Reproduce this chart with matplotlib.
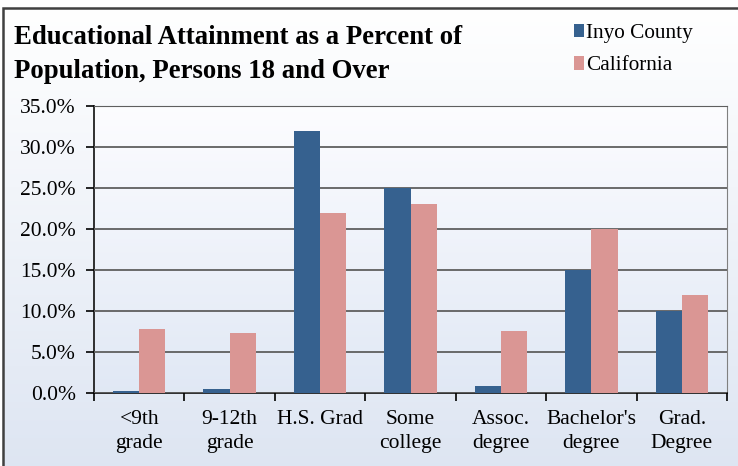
import numpy as np
import matplotlib
matplotlib.use("Agg")
import matplotlib.pyplot as plt
from matplotlib.patches import Rectangle
from matplotlib.ticker import FuncFormatter, FixedLocator

matplotlib.rcParams['font.family'] = ['Liberation Serif', 'DejaVu Serif']

categories = ["<9th\ngrade", "9-12th\ngrade", "H.S. Grad", "Some\ncollege",
              "Assoc.\ndegree", "Bachelor's\ndegree", "Grad.\nDegree"]
inyo = [0.3, 0.5, 32.0, 25.0, 0.9, 15.0, 10.0]
california = [7.8, 7.3, 22.0, 23.0, 7.6, 20.0, 12.0]
series_names = ["Inyo County", "California"]
title_lines = ["Educational Attainment as a Percent of",
               "Population, Persons 18 and Over"]

BLUE = "#36618f"
PINK = "#da9694"

fig = plt.figure(figsize=(7.38, 4.66), dpi=100)

# background gradient for the whole chart area
bg = fig.add_axes([0.004, 0, 1.0, 0.983], zorder=-2)
grad = np.linspace(0, 1, 256).reshape(-1, 1)
top_col = np.array([1.0, 1.0, 1.0])
bot_col = np.array([0.87, 0.90, 0.95])
img = top_col + (bot_col - top_col) * grad[..., None]
bg.imshow(img.reshape(256, 1, 3), aspect="auto", extent=[0, 1, 0, 1], origin="upper")
bg.set_axis_off()
fig.patches.append(Rectangle((0.004, -0.1), 1.2, 1.083, transform=fig.transFigure,
                             fill=False, edgecolor="#404040", linewidth=1.8, zorder=5))

ax = fig.add_axes([0.1274, 0.1567, 0.8577, 0.6159])
ax.set_facecolor("none")
pimg = np.array([0.99, 0.99, 1.0]) + (np.array([0.88, 0.91, 0.96]) - np.array([0.99, 0.99, 1.0])) * grad[..., None]
ax.imshow(pimg.reshape(256, 1, 3), aspect="auto", extent=[-0.5, 6.5, 0, 35],
          origin="upper", zorder=0)

x = np.arange(len(categories))
w = 0.29
ax.bar(x - w / 2, inyo, width=w, color=BLUE, label=series_names[0], zorder=3)
ax.bar(x + w / 2, california, width=w, color=PINK, label=series_names[1], zorder=3)

ax.set_xlim(-0.5, 6.5)
ax.set_ylim(0, 35)
ax.set_yticks(np.arange(0, 36, 5))
ax.yaxis.set_major_formatter(FuncFormatter(lambda v, p: f"{v:.1f}%"))
ax.grid(axis="y", color="#5f5f5f", linewidth=1.3, zorder=1)
ax.set_axisbelow(False)

ax.set_xticks(x)
ax.set_xticklabels(categories, linespacing=1.36, va="top")
ax.xaxis.set_minor_locator(FixedLocator(np.arange(-0.5, 7, 1)))
ax.tick_params(axis="x", which="major", length=0, pad=12, labelsize=15.5)
ax.tick_params(axis="x", which="minor", length=6, width=1.2, direction="out")
ax.tick_params(axis="y", length=6, width=1.2, direction="out", labelsize=15.5, pad=7)

for side in ["left", "bottom"]:
    ax.spines[side].set_color("#202020")
    ax.spines[side].set_linewidth(1.3)
ax.spines["top"].set_color("#5f5f5f")
ax.spines["right"].set_color("#808080")

fig.text(0.019, 1 - 44 / 466, title_lines[0], fontsize=19.3, fontweight="bold",
         ha="left", va="baseline")
fig.text(0.019, 1 - 78 / 466, title_lines[1], fontsize=19.3, fontweight="bold",
         ha="left", va="baseline")

leg = fig.legend(loc="upper left", bbox_to_anchor=(0.752, 0.99), frameon=False,
                 fontsize=15.3, handlelength=0.45, handleheight=0.6, handletextpad=0.12,
                 labelspacing=0.62)

fig.savefig("out.png", dpi=100)
